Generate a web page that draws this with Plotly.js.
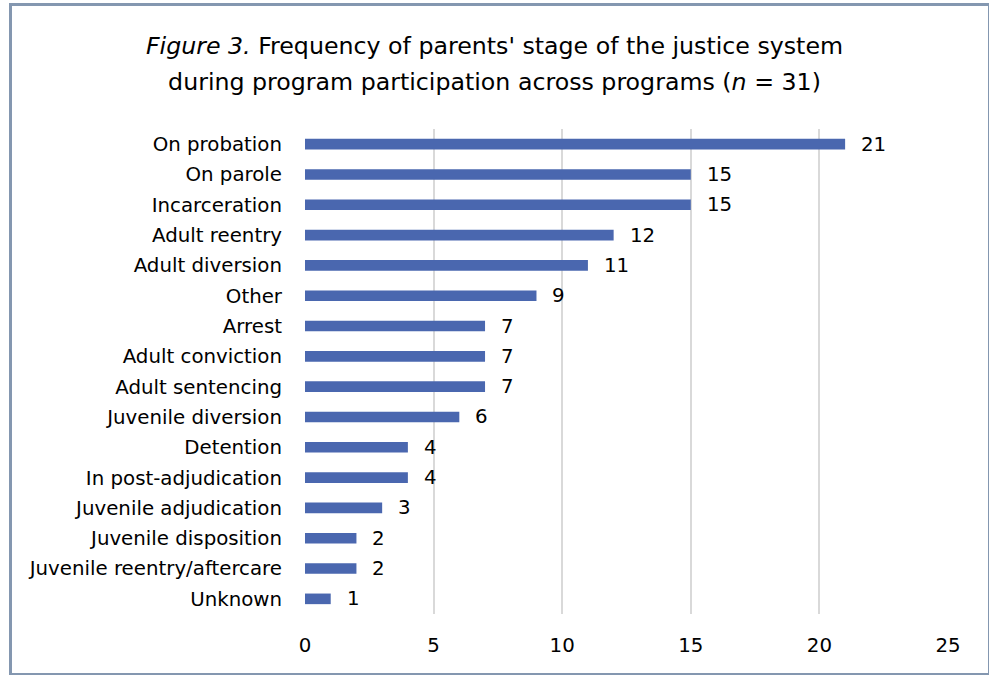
<!DOCTYPE html>
<html>
<head>
<meta charset="utf-8">
<script src="https://cdn.plot.ly/plotly-3.0.1.min.js"></script>
<style>
html,body{margin:0;padding:0;background:#fff;}
#wrap{position:relative;width:989px;height:675px;}
#chart{position:absolute;left:0;top:0;width:989px;height:675px;}
#frame{position:absolute;left:9px;top:3px;width:976px;height:667px;border:3px solid #8497B0;pointer-events:none;}
</style>
</head>
<body>
<div id="wrap">
<div id="chart"></div>
<div id="frame"></div>
</div>
<script>
const categories = [
  "On probation","On parole","Incarceration","Adult reentry","Adult diversion",
  "Other","Arrest","Adult conviction","Adult sentencing","Juvenile diversion",
  "Detention","In post-adjudication","Juvenile adjudication","Juvenile disposition",
  "Juvenile reentry/aftercare","Unknown"
];
const counts = [21,15,15,12,11,9,7,7,7,6,4,4,3,2,2,1];
const xTicks = [0,5,10,15,20,25];

const FONT = "'DejaVu Sans', 'Open Sans', Arial, sans-serif";
const FS = 19.8;

const trace = {
  type: "bar",
  orientation: "h",
  x: counts,
  y: categories,
  marker: {color: "#4A67AF"},
  hoverinfo: "x+y"
};

const annotations = counts.map((v, i) => ({
  x: v, y: categories[i], xref: "x", yref: "y",
  text: String(v), showarrow: false,
  xanchor: "left", xshift: 14,
  font: {family: FONT, size: FS, color: "#000"}
}));

const titleLine1 = "<i>Figure 3.</i> Frequency of parents' stage of the justice system";
const titleLine2 = "during program participation across programs (<i>n</i> = 31)";

const layout = {
  width: 989, height: 675,
  paper_bgcolor: "#fff", plot_bgcolor: "#fff",
  margin: {l: 305, r: 41, t: 129, b: 61},
  font: {family: FONT, size: FS, color: "#000"},
  title: {
    text: '<span style="font-size:23.7px">' + titleLine1 + '</span><br><span style="font-size:23.7px">' + titleLine2 + '</span>',
    font: {family: FONT, size: 27.7, color: "#000"},
    x: 0.5, xanchor: "center", xref: "container",
    y: 1 - 54/675, yref: "container", yanchor: "top"
  },
  bargap: 0.65,
  showlegend: false,
  xaxis: {
    range: [0, 25],
    tickvals: xTicks,
    ticktext: xTicks.map(String),
    showgrid: true, gridcolor: "#D9D9D9", gridwidth: 2,
    zeroline: false, showline: false, ticks: "",
    ticklabelstandoff: 17,
    tickfont: {family: FONT, size: FS, color: "#000"},
    fixedrange: true
  },
  yaxis: {
    autorange: "reversed",
    showgrid: false, zeroline: false, showline: false, ticks: "",
    ticklabelstandoff: 22,
    tickfont: {family: FONT, size: FS, color: "#000"},
    fixedrange: true
  },
  annotations: annotations
};

Plotly.newPlot("chart", [trace], layout, {displayModeBar: false, staticPlot: true});
</script>
</body>
</html>
